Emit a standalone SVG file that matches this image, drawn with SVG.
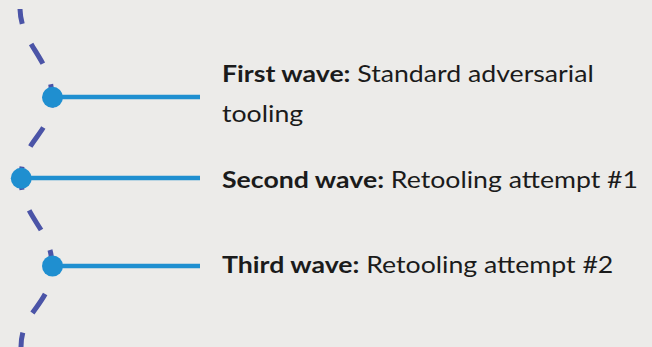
<svg xmlns="http://www.w3.org/2000/svg" width="652" height="347" viewBox="0 0 652 347">
<style>
.wave{fill:none;stroke:#4b54a7;stroke-width:5;stroke-dasharray:23 22}
.lnk{stroke:#1f8fd0;stroke-width:4.5}
.dot{fill:#1f8fd0}
text{font-family:Lato,"Noto Sans",sans-serif;font-size:23.5px;fill:#1b1b1b}
.b{font-weight:bold}
</style>
<rect width="652" height="347" fill="#ecebe9"/>
<g id="connectors">
<path class="wave" d="M20,9 C21,45 52,60 52,97 C52,135 21,140 21,178 C21,218 52,228 52,266 C52,305 21,310 21,347" stroke-dashoffset="8"/>
<line class="lnk" x1="52" y1="97" x2="200" y2="97"/>
<line class="lnk" x1="21" y1="178" x2="200" y2="178"/>
<line class="lnk" x1="52" y1="266" x2="200" y2="266"/>
</g>
<g id="node1">
<circle class="dot" cx="52.5" cy="97.3" r="10.5"/>
<g transform="translate(222,0) scale(1.135,1)">
<text x="0" y="82.5"><tspan class="b">First wave:</tspan> Standard adversarial</text>
<text x="0" y="122">tooling</text>
</g>
</g>
<g id="node2">
<circle class="dot" cx="21.3" cy="178.3" r="10.5"/>
<g transform="translate(222,0) scale(1.135,1)">
<text x="0" y="187.7"><tspan class="b">Second wave:</tspan> Retooling attempt #1</text>
</g>
</g>
<g id="node3">
<circle class="dot" cx="52.5" cy="266" r="10.5"/>
<g transform="translate(222,0) scale(1.135,1)">
<text x="0" y="272.7"><tspan class="b">Third wave:</tspan> Retooling attempt #2</text>
</g>
</g>
</svg>
